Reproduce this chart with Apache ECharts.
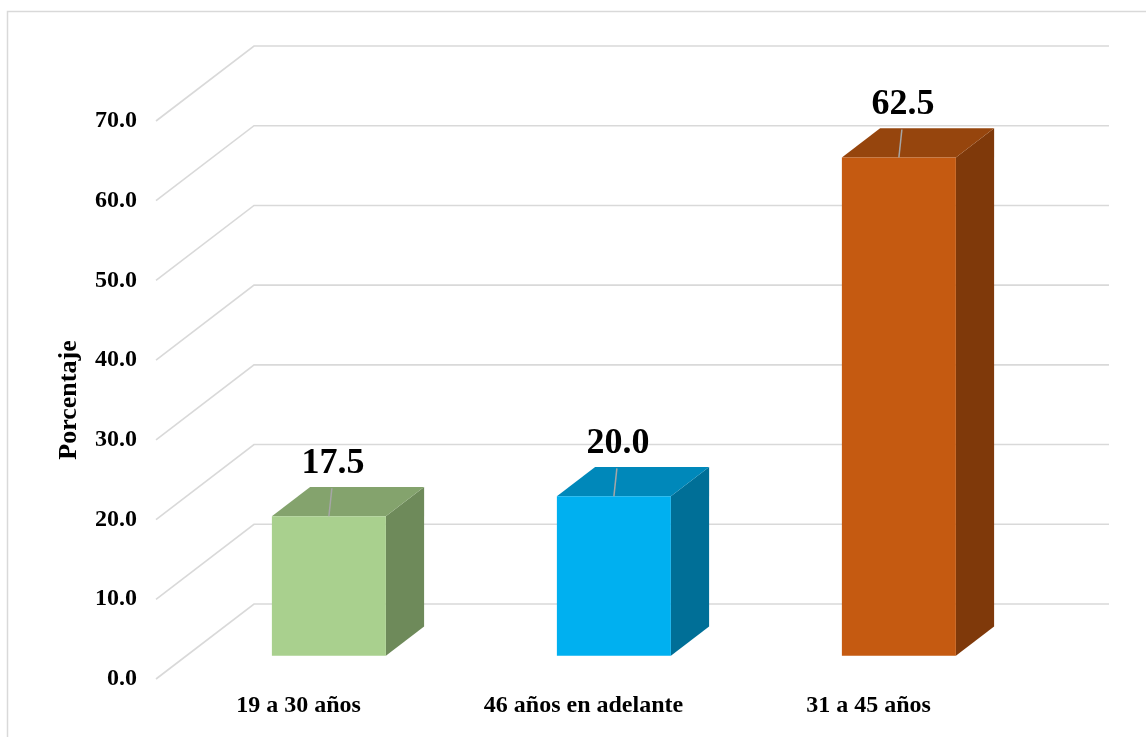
<!DOCTYPE html>
<html>
<head>
<meta charset="utf-8">
<script src="https://cdn.jsdelivr.net/npm/echarts@6/dist/echarts.min.js"></script>
<style>
html,body{margin:0;padding:0;background:#fff;}
#chart{width:1146px;height:737px;}
</style>
</head>
<body>
<div id="chart"></div>
<script>
// ---- data ----
const categories = ['19 a 30 años', '46 años en adelante', '31 a 45 años'];
const values = [17.5, 20.0, 62.5];
const tickValues = [0, 10, 20, 30, 40, 50, 60, 70];
const axisTitle = 'Porcentaje';

// ---- styles ----
const frontColors = ['#A9D08E', '#00B0F0', '#C55A11'];
const topColors = ['#84A36D', '#0088BA', '#96450D'];
const sideColors = ['#6E8A5A', '#006F97', '#7F390A'];
const FONT = "'Liberation Serif', 'Times New Roman', serif";
const GRID_LINE = '#D9D9D9';
const FLOOR_DX = 98, FLOOR_DY = 75;   // full depth of the 3D floor (px)
const BAR_D0 = 0.31, BAR_D1 = 0.70;   // bar depth range (fraction of floor depth)

const chart = echarts.init(document.getElementById('chart'));

const option = {
  backgroundColor: '#fff',
  animation: false,
  graphic: [{
    type: 'rect',
    shape: { x: 7.5, y: 11.5, width: 1200, height: 800 },
    style: { fill: 'none', stroke: GRID_LINE, lineWidth: 1.5 },
    z: 0
  }],
  grid: { left: 156, top: 121, width: 855, height: 558 },
  xAxis: {
    type: 'category',
    data: categories,
    axisLine: { show: false },
    axisTick: { show: false },
    axisLabel: {
      margin: 15,
      fontFamily: FONT, fontWeight: 'bold', fontSize: 24, color: '#000'
    }
  },
  yAxis: {
    type: 'value',
    min: 0, max: 70, interval: 10,
    name: axisTitle,
    nameLocation: 'middle',
    nameRotate: 90,
    nameGap: 74,
    nameTextStyle: { fontFamily: FONT, fontWeight: 'bold', fontSize: 26, color: '#000' },
    axisLine: { show: false },
    axisTick: { show: false },
    splitLine: { show: false },
    axisLabel: {
      margin: 19,
      fontFamily: FONT, fontWeight: 'bold', fontSize: 24, color: '#000',
      formatter: v => v.toFixed(1)
    }
  },
  series: [
    {
      type: 'custom',
      name: 'walls',
      silent: true,
      z: 1,
      data: tickValues.map(v => [0, v]),
      renderItem: function (params, api) {
        const cs = params.coordSys;
        const y = api.coord([0, api.value(1)])[1];
        return {
          type: 'polyline',
          shape: { points: [
            [cs.x, y],
            [cs.x + FLOOR_DX, y - FLOOR_DY],
            [cs.x + cs.width + FLOOR_DX, y - FLOOR_DY]
          ] },
          style: { stroke: GRID_LINE, lineWidth: 1.6, fill: null }
        };
      }
    },
    {
      type: 'custom',
      name: 'bars',
      z: 2,
      data: values.map((v, i) => [i, v]),
      renderItem: function (params, api) {
        const i = api.value(0), v = api.value(1);
        const top = api.coord([i, v]);
        const base = api.coord([i, 0]);
        const bw = api.size([1, 0])[0] * 0.4;
        const ox = FLOOR_DX * BAR_D0, oy = FLOOR_DY * BAR_D0;
        const ddx = FLOOR_DX * (BAR_D1 - BAR_D0), ddy = FLOOR_DY * (BAR_D1 - BAR_D0);
        const cx = top[0] + ox;
        const x0 = cx - bw / 2, x1 = cx + bw / 2;
        const yT = top[1] - oy, yB = base[1] - oy;
        return {
          type: 'group',
          children: [
            { type: 'polygon', shape: { points: [[x1, yB], [x1 + ddx, yB - ddy], [x1 + ddx, yT - ddy], [x1, yT]] },
              style: { fill: sideColors[i] } },
            { type: 'polygon', shape: { points: [[x0, yT], [x0 + ddx, yT - ddy], [x1 + ddx, yT - ddy], [x1, yT]] },
              style: { fill: topColors[i] } },
            { type: 'rect', shape: { x: x0, y: yT, width: bw, height: yB - yT },
              style: { fill: frontColors[i] } },
            { type: 'line', shape: { x1: cx, y1: yT, x2: cx + 3, y2: yT - 28 },
              style: { stroke: '#A6A6A6', lineWidth: 1.5 } },
            { type: 'text', x: cx + 4, y: yT - 53,
              style: { text: v.toFixed(1), fontFamily: FONT, fontWeight: 'bold', fontSize: 36,
                fill: '#000', align: 'center', verticalAlign: 'middle' } }
          ]
        };
      }
    }
  ]
};
chart.setOption(option);
</script>
</body>
</html>
